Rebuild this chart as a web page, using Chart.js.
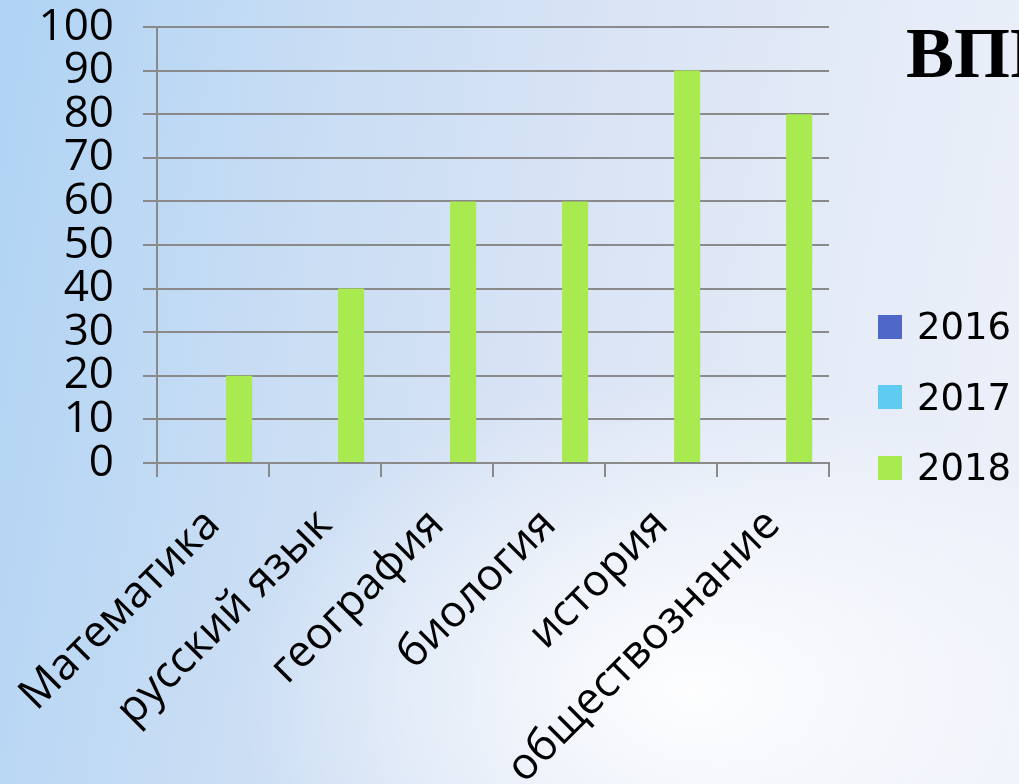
<!DOCTYPE html>
<html lang="ru">
<head>
<meta charset="utf-8">
<title>ВПР</title>
<script src="https://cdn.jsdelivr.net/npm/chart.js@4.4.1/dist/chart.umd.min.js"></script>
<style>
  html, body { margin: 0; padding: 0; }
  body {
    width: 1019px;
    height: 784px;
    overflow: hidden;
    position: relative;
    background:
      radial-gradient(ellipse 45% 40% at 68% 88%, rgba(255,255,255,0.95) 0%, rgba(255,255,255,0) 100%),
      linear-gradient(100deg, #afd3f4 0%, #c8ddf4 28%, #dae4f5 55%, #e6ecf8 80%, #edf1f9 100%);
  }
  #chart { position: absolute; left: 0; top: 0; }
  #title {
    position: absolute;
    left: 906px;
    top: 17px;
    font: bold 72px "Liberation Serif", serif;
    line-height: 1;
    white-space: nowrap;
    color: #000;
  }
  .legend-row {
    position: absolute;
    left: 878px;
    height: 70px;
    display: flex;
    align-items: center;
    font: 37px "DejaVu Sans", sans-serif;
    color: #000;
  }
  .legend-box { width: 24px; height: 24px; margin-right: 15px; }
</style>
</head>
<body>
<canvas id="chart" width="1019" height="784"></canvas>
<div id="title">ВПР</div>
<div id="legend"></div>

<script>
// данные с графика
const subjects = ["Математика", "русский язык", "география", "биология", "история", "обществознание"];
const years = ["2016", "2017", "2018"];
const values2016 = [null, null, null, null, null, null];
const values2017 = [null, null, null, null, null, null];
const values2018 = [20, 40, 60, 60, 90, 80];
const yearColors = ["#4f67c8", "#5ecbf0", "#a8ea50"];

const gridColor = "#8a8a8a";
const tickFont = "'Open Sans', sans-serif";

const ctx = document.getElementById("chart").getContext("2d");
const chart = new Chart(ctx, {
  type: "bar",
  data: {
    labels: subjects,
    datasets: [
      { label: years[0], data: values2016, backgroundColor: yearColors[0] },
      { label: years[1], data: values2017, backgroundColor: yearColors[1] },
      { label: years[2], data: values2018, backgroundColor: yearColors[2] },
    ],
  },
  options: {
    responsive: false,
    animation: false,
    layout: { padding: { top: 27, right: 190, left: 0, bottom: 0 } },
    datasets: {
      bar: { categoryPercentage: 0.7, barPercentage: 1, borderWidth: 0 },
    },
    plugins: {
      legend: { display: false },
      tooltip: { enabled: false },
    },
    scales: {
      x: {
        grid: {
          drawOnChartArea: false,
          drawTicks: true,
          tickLength: 14,
          color: gridColor,
          lineWidth: 2,
        },
        border: { display: true, color: gridColor, width: 2 },
        ticks: {
          autoSkip: false,
          minRotation: 45,
          maxRotation: 45,
          padding: 22,
          color: "#000",
          font: { family: tickFont, size: 44 },
        },
        afterFit: (scale) => {
          scale.height = 321;
          // не даём подписям сдвигать область графика
          scale.paddingLeft = 0;
          scale.paddingRight = 0;
        },
      },
      y: {
        min: 0,
        max: 100,
        grid: {
          color: gridColor,
          lineWidth: 2,
          tickLength: 14,
        },
        border: { display: true, color: gridColor, width: 2 },
        ticks: {
          stepSize: 10,
          autoSkip: false,
          padding: 29,
          color: "#000",
          font: { family: tickFont, size: 44, lineHeight: 1 },
        },
        afterFit: (scale) => {
          scale.width = 157;
          scale.paddingTop = 0;
          scale.paddingBottom = 0;
        },
      },
    },
  },
});

// на случай если шрифт подгрузится позже
if (document.fonts) {
  document.fonts.load("44px 'Open Sans'").then(() => chart.update());
}

// легенда справа
const legendEl = document.getElementById("legend");
years.forEach((year, i) => {
  const row = document.createElement("div");
  row.className = "legend-row";
  row.style.top = (291.5 + i * 70.5) + "px";
  const box = document.createElement("span");
  box.className = "legend-box";
  box.style.background = yearColors[i];
  const txt = document.createElement("span");
  txt.textContent = year;
  row.appendChild(box);
  row.appendChild(txt);
  legendEl.appendChild(row);
});
</script>
</body>
</html>
